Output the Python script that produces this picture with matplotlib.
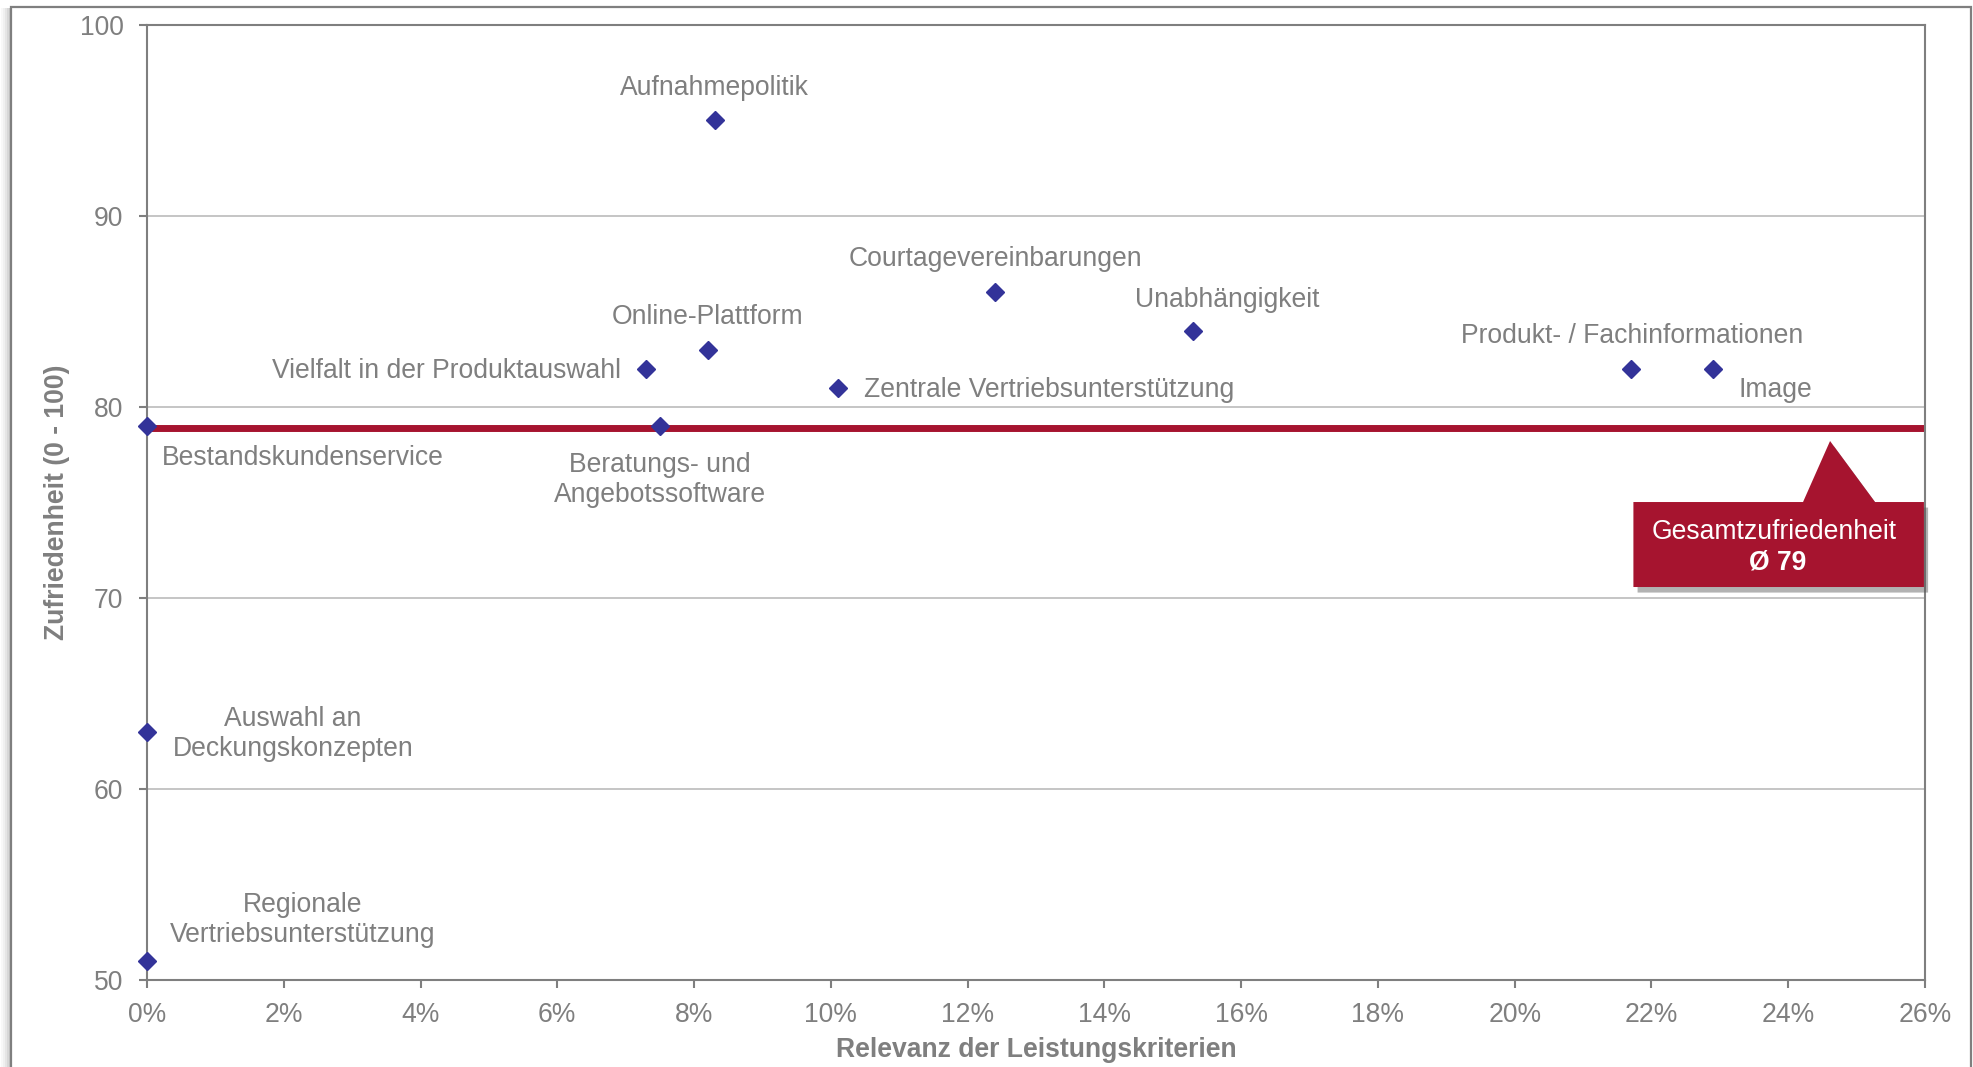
import matplotlib
matplotlib.use("Agg")
import matplotlib.pyplot as plt
from matplotlib.patches import Polygon, Rectangle
from matplotlib.ticker import FuncFormatter, MultipleLocator
import matplotlib.patheffects as pe

plt.rcParams['font.family'] = ['Liberation Sans', 'DejaVu Sans']

# ---------------- data ----------------
criteria = [
    "Aufnahmepolitik",
    "Courtagevereinbarungen",
    "Unabhängigkeit",
    "Online-Plattform",
    "Vielfalt in der Produktauswahl",
    "Zentrale Vertriebsunterstützung",
    "Produkt- / Fachinformationen",
    "Image",
    "Bestandskundenservice",
    "Beratungs- und\nAngebotssoftware",
    "Auswahl an\nDeckungskonzepten",
    "Regionale\nVertriebsunterstützung",
]
relevance = [0.083, 0.124, 0.153, 0.082, 0.073, 0.101, 0.217, 0.229, 0.0, 0.075, 0.0, 0.0]
satisfaction = [95, 86, 84, 83, 82, 81, 82, 82, 79, 79, 63, 51]
overall_avg = 78.9
overall_label = "Gesamtzufriedenheit"
overall_value_label = "Ø 79"
x_label = "Relevanz der Leistungskriterien"
y_label = "Zufriedenheit (0 - 100)"

# label placement (offset in pixels, horizontal alignment)
label_offsets = [
    ((0, 32), 'center'),
    ((0, 33), 'center'),
    ((34, 31), 'center'),
    ((0, 33), 'center'),
    ((-25, -2), 'right'),
    ((26, -2), 'left'),
    ((1, 33), 'center'),
    ((25, -21), 'left'),
    ((15, -32), 'left'),
    ((0, -54), 'center'),
    ((146, -2), 'center'),
    ((156, 41), 'center'),
]

GRAY = '#7f7f7f'
BLUE = '#333399'
RED = '#A6142F'
FS = 19.1

fig = plt.figure(figsize=(19.74, 10.67), dpi=100)
ax = fig.add_axes([147 / 1974, 1 - 980 / 1067, (1925 - 147) / 1974, (980 - 25) / 1067])

ax.set_xlim(0, 0.26)
ax.set_ylim(50, 100)
ax.xaxis.set_major_locator(MultipleLocator(0.02))
ax.yaxis.set_major_locator(MultipleLocator(10))
ax.xaxis.set_major_formatter(FuncFormatter(lambda v, p: f"{v * 100:.0f}%"))

ax.grid(axis='y', color='#c0c0c0', lw=1.3)
ax.set_axisbelow(True)
for s in ax.spines.values():
    s.set_color(GRAY)
    s.set_linewidth(1.5)

ax.tick_params(axis='both', colors=GRAY, labelcolor=GRAY, labelsize=FS,
               length=6, width=1.5, direction='out')
ax.tick_params(axis='y', pad=11)
ax.tick_params(axis='x', pad=10)

ax.axhline(overall_avg, color=RED, lw=5, zorder=2)

ax.plot(relevance, satisfaction, linestyle='none', marker='D', markersize=9.5,
        color=BLUE, markeredgecolor=BLUE, clip_on=False, zorder=3)

for name, x, y, (off, ha) in zip(criteria, relevance, satisfaction, label_offsets):
    ax.annotate(name, (x, y), xytext=off, textcoords='offset pixels',
                ha=ha, va='center', multialignment='center',
                color=GRAY, fontsize=FS, linespacing=1.21)

ax.set_xlabel(x_label, color=GRAY, fontsize=FS, fontweight='bold', va='center')
ax.set_ylabel(y_label, color=GRAY, fontsize=FS, fontweight='bold', va='center')
ax.xaxis.set_label_coords(0.5, -0.0733)
ax.yaxis.set_label_coords(-0.0506, 0.5)

# callout
x0, x1 = 0.836, 0.9994
yb, yt = 0.4115, 0.5005
tl, tr = 0.9314, 0.9719
apx, apy = 0.9466, 0.5644
poly = Polygon([(x0, yb), (x1, yb), (x1, yt), (tr, yt), (apx, apy), (tl, yt), (x0, yt)],
               closed=True, transform=ax.transAxes, facecolor=RED, edgecolor='none',
               clip_on=False, zorder=5)
poly.set_path_effects([pe.SimplePatchShadow(offset=(3, -4), shadow_rgbFace='#555555', alpha=0.45),
                       pe.Normal()])
ax.add_patch(poly)
ax.text(0.9154, 0.4696, overall_label, transform=ax.transAxes, ha='center', va='center',
        color='white', fontsize=FS, zorder=6)
ax.text(0.9171, 0.4371, overall_value_label, transform=ax.transAxes, ha='center', va='center',
        color='white', fontsize=FS, fontweight='bold', zorder=6)

# outer frame with left shadow
for i, a in enumerate([0.35, 0.25, 0.16, 0.09, 0.04]):
    fig.patches.append(Rectangle(((9 - 2 * i) / 1974, -0.01), 2 / 1974, 1 - 8 / 1067 + 0.01,
                                 transform=fig.transFigure, facecolor='#606060', alpha=a,
                                 edgecolor='none'))
fig.patches.append(Rectangle((11 / 1974, -0.02), (1971 - 11) / 1974, 1 - 6.5 / 1067 + 0.02,
                             transform=fig.transFigure, facecolor='none', edgecolor=GRAY,
                             lw=1.6))

fig.savefig("out.png", dpi=100)
